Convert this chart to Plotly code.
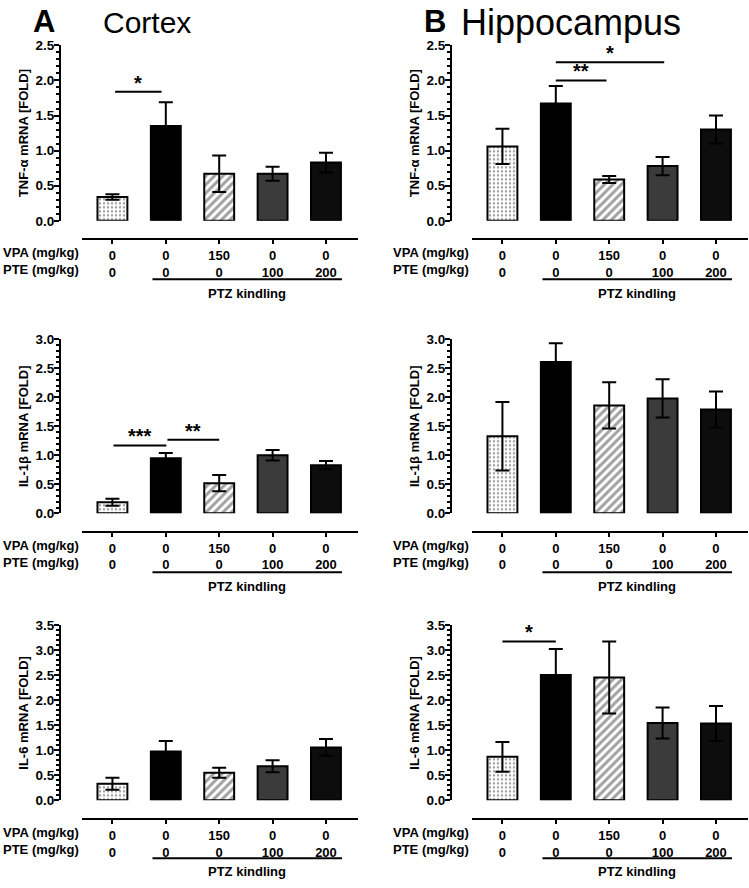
import plotly.graph_objects as go

# groups (x order) and dose table rows
groups = ['Control', 'PTZ', 'PTZ + VPA 150', 'PTZ + PTE 100', 'PTZ + PTE 200']
vpa_dose = ['0', '0', '150', '0', '0']
pte_dose = ['0', '0', '0', '100', '200']

# mean fold change and error (SEM) per panel
cortex_tnf = [0.34, 1.35, 0.67, 0.67, 0.83]
cortex_tnf_err = [0.04, 0.34, 0.26, 0.10, 0.14]
hippo_tnf = [1.06, 1.67, 0.59, 0.78, 1.30]
hippo_tnf_err = [0.25, 0.25, 0.05, 0.13, 0.20]
cortex_il1b = [0.19, 0.95, 0.52, 1.00, 0.83]
cortex_il1b_err = [0.06, 0.09, 0.14, 0.09, 0.07]
hippo_il1b = [1.33, 2.61, 1.86, 1.98, 1.79]
hippo_il1b_err = [0.59, 0.32, 0.40, 0.33, 0.31]
cortex_il6 = [0.33, 0.98, 0.55, 0.68, 1.06]
cortex_il6_err = [0.12, 0.21, 0.10, 0.12, 0.17]
hippo_il6 = [0.87, 2.51, 2.46, 1.55, 1.54]
hippo_il6_err = [0.30, 0.52, 0.72, 0.31, 0.35]

# significance brackets: (from group, to group, height, label)
sig_cortex_tnf = [(0.05, 0.92, 1.84, '*')]
sig_hippo_tnf = [(1.0, 1.95, 2.0, '**'), (1.0, 3.03, 2.26, '*')]
sig_cortex_il1b = [(0.02, 1.01, 1.17, '***'), (1.03, 2.0, 1.27, '**')]
sig_hippo_il6 = [(0.0, 1.0, 3.18, '*')]

W, H = 749, 888
FONT = 'Liberation Sans, Arial, sans-serif'
bar_colors = ['white', 'black', 'white', '#3b3b3b', '#0d0d0d']
bar_patterns = ['.', '', '/', '', '']
pattern_size = [4, 5, 6, 5, 5]
pattern_solidity = [0.3, 0.3, 0.5, 0.3, 0.3]


def px(x):
    return x / W


def py(y):
    return 1 - y / H


# panel definitions
panels = [
    dict(y=cortex_tnf, err=cortex_tnf_err, sig=sig_cortex_tnf, ymax=2.5,
         title='TNF-α mRNA [FOLD]', col=0, row=0),
    dict(y=hippo_tnf, err=hippo_tnf_err, sig=sig_hippo_tnf, ymax=2.5,
         title='TNF-α mRNA [FOLD]', col=1, row=0),
    dict(y=cortex_il1b, err=cortex_il1b_err, sig=sig_cortex_il1b, ymax=3.0,
         title='IL-1β mRNA [FOLD]', col=0, row=1),
    dict(y=hippo_il1b, err=hippo_il1b_err, sig=[], ymax=3.0,
         title='IL-1β mRNA [FOLD]', col=1, row=1),
    dict(y=cortex_il6, err=cortex_il6_err, sig=[], ymax=3.5,
         title='IL-6 mRNA [FOLD]', col=0, row=2),
    dict(y=hippo_il6, err=hippo_il6_err, sig=sig_hippo_il6, ymax=3.5,
         title='IL-6 mRNA [FOLD]', col=1, row=2),
]

yaxis_px = [60, 451]          # y axis line x
xdom_px = [(82, 358), (472, 748)]
row_top = [39, 338, 629]      # top of y axis
row_bot = [217.5, 515, 807]   # y = 0
row_xline = [236, 534, 826]   # offset x axis line
row_ptz = [277, 575, 866]     # PTZ kindling line
row_ptz_txt = [291, 589, 879]

xpos = list(range(len(groups)))
ticktext = [f'{v}<br>{p}' for v, p in zip(vpa_dose, pte_dose)]

fig = go.Figure()
layout = {}
annotations = []
shapes = []

for i, p in enumerate(panels, start=1):
    xa = 'x' if i == 1 else f'x{i}'
    ya = 'y' if i == 1 else f'y{i}'
    c, r = p['col'], p['row']

    fig.add_trace(go.Bar(
        x=xpos, y=p['y'], width=0.56,
        marker=dict(color=bar_colors, line=dict(color='black', width=2),
                    pattern=dict(shape=bar_patterns, fgcolor='black', bgcolor='white',
                                 size=pattern_size, solidity=pattern_solidity)),
        error_y=dict(type='data', array=p['err'], color='black', thickness=2, width=7),
        xaxis=xa, yaxis=ya, showlegend=False, cliponaxis=False,
    ))

    for x0, x1, h, lab in p['sig']:
        fig.add_trace(go.Scatter(
            x=[x0, x1], y=[h, h], mode='lines', line=dict(color='black', width=2),
            xaxis=xa, yaxis=ya, showlegend=False, cliponaxis=False,
        ))
        annotations.append(dict(
            x=(x0 + x1) / 2, y=h, xref=xa, yref=ya, text=f'<b>{lab}</b>',
            showarrow=False, yanchor='bottom', yshift=-4,
            font=dict(size=20, color='black', family=FONT),
        ))

    layout['xaxis' if i == 1 else f'xaxis{i}'] = dict(
        domain=[px(xdom_px[c][0]), px(xdom_px[c][1])], range=[-0.57, 4.6],
        anchor='free', position=py(row_xline[r]),
        showline=True, linewidth=2, linecolor='black',
        ticks='outside', ticklen=4, tickwidth=2, tickcolor='black',
        tickvals=xpos, ticktext=ticktext,
        tickfont=dict(size=13, color='black', family=FONT, weight='bold'),
        showgrid=False, zeroline=False, fixedrange=True,
    )
    layout['yaxis' if i == 1 else f'yaxis{i}'] = dict(
        domain=[py(row_bot[r]), py(row_top[r])], range=[0, p['ymax']],
        anchor='free', position=px(yaxis_px[c]),
        showline=True, linewidth=2, linecolor='black',
        ticks='outside', ticklen=5, tickwidth=2, tickcolor='black',
        dtick=0.5, tickformat='.1f', ticklabelstandoff=-3,
        minor=dict(dtick=0.1, ticks='outside', ticklen=3, tickwidth=1.5, tickcolor='black'),
        tickfont=dict(size=13.5, color='black', family=FONT, weight='bold'),
        title=dict(text=p['title'], standoff=3,
                   font=dict(size=13, color='black', family=FONT, weight='bold')),
        showgrid=False, zeroline=False, fixedrange=True,
    )

    # dose row labels
    annotations.append(dict(
        x=px(xdom_px[c][0]) - 0.002, y=py(row_xline[r] + 4), xref='paper', yref='paper',
        text='VPA (mg/kg)<br>PTE (mg/kg)', align='right', showarrow=False,
        xanchor='right', yanchor='top',
        font=dict(size=13, color='black', family=FONT, weight='bold'),
    ))
    # PTZ kindling group
    shapes.append(dict(type='line', xref=xa, yref='paper', x0=0.75, x1=4.3,
                       y0=py(row_ptz[r]), y1=py(row_ptz[r]),
                       line=dict(color='black', width=2)))
    annotations.append(dict(
        x=2.52, y=py(row_ptz_txt[r]), xref=xa, yref='paper', text='PTZ kindling',
        showarrow=False, xanchor='center', yanchor='middle',
        font=dict(size=13, color='black', family=FONT, weight='bold'),
    ))

# panel headings
annotations += [
    dict(x=px(44), y=py(15), xref='paper', yref='paper', text='<b>A</b>', showarrow=False,
         xanchor='center', yanchor='middle', font=dict(size=31, color='black', family=FONT)),
    dict(x=px(101), y=py(16), xref='paper', yref='paper', text='Cortex', showarrow=False,
         xanchor='left', yanchor='middle', font=dict(size=30, color='black', family=FONT)),
    dict(x=px(435), y=py(15), xref='paper', yref='paper', text='<b>B</b>', showarrow=False,
         xanchor='center', yanchor='middle', font=dict(size=31, color='black', family=FONT)),
    dict(x=px(459), y=py(16), xref='paper', yref='paper', text='Hippocampus', showarrow=False,
         xanchor='left', yanchor='middle', font=dict(size=36, color='black', family=FONT)),
]

fig.update_layout(
    width=W, height=H, autosize=False, margin=dict(l=0, r=0, t=0, b=0),
    paper_bgcolor='white', plot_bgcolor='white',
    font=dict(family=FONT, color='black'),
    bargap=0.4, annotations=annotations, shapes=shapes,
    **layout,
)

post = """
document.body.style.margin = '0';
document.body.style.padding = '0';
document.body.style.overflow = 'hidden';
var gd = document.getElementById('{plot_id}');
gd.style.width = '749px';
gd.style.height = '888px';
Plotly.relayout(gd, {width: 749, height: 888});
"""

fig.write_html("out.html", config={'displayModeBar': False}, post_script=post)
